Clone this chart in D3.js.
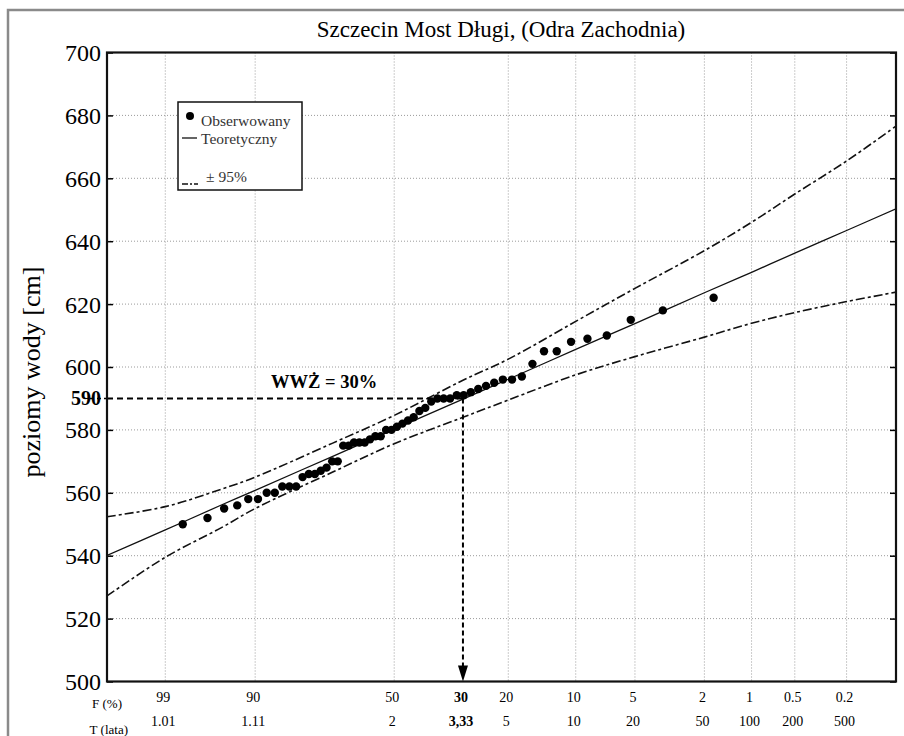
<!DOCTYPE html>
<html>
<head>
<meta charset="utf-8">
<script src="https://cdn.jsdelivr.net/npm/d3@7"></script>
<style>
  body { margin: 0; background: #fff; }
  svg { display: block; font-family: "Liberation Serif", "DejaVu Serif", serif; }
</style>
</head>
<body>
<div class="canvas"></div>
<script>
const observed = [622, 618, 615, 610, 609, 608, 605, 605, 601, 597,
                  596, 596, 595, 594, 593, 592, 591, 591, 590, 590,
                  590, 589, 587, 586, 584, 583, 582, 581, 580, 580,
                  578, 578, 577, 576, 576, 576, 575, 575, 570, 570,
                  568, 567, 566, 566, 565, 562, 562, 562, 560, 560,
                  558, 558, 556, 555, 552, 550];

// fitted curve and 95% band, read at these exceedance probabilities F [%]
const curveF  = [99.91, 99,    95,    90,    70,    50,    30,    20,    10,    5,     2,     1,     0.5,   0.2,   0.075];
const theory  = [540.1, 548.2, 556.2, 560.8, 571.6, 580.2, 589.8, 596.1, 605.6, 613.8, 623.6, 630.1, 636.2, 643.4, 650.3];
const upper   = [552.4, 555.6, 561.2, 565.0, 575.8, 584.6, 595.8, 602.5, 614.5, 625.0, 637.0, 646.0, 655.0, 665.5, 676.6];
const lower   = [527.2, 539.5, 549.0, 555.0, 566.6, 575.6, 584.0, 589.5, 597.5, 603.3, 609.5, 613.9, 617.3, 620.8, 623.8];

// axes
const gridF   = [99, 90, 50, 20, 10, 5, 2, 1, 0.5, 0.2];
const tickF   = [99, 90, 50, 30, 20, 10, 5, 2, 1, 0.5, 0.2];
const labelF  = ['99', '90', '50', '30', '20', '10', '5', '2', '1', '0.5', '0.2'];
const labelT  = ['1.01', '1.11', '2', '3,33', '5', '10', '20', '50', '100', '200', '500'];
const yTicks  = [500, 520, 540, 560, 580, 600, 620, 640, 660, 680, 700];

const wwzF = 30;      // WWŻ probability
const wwzLevel = 590; // cm

const W = 904, H = 736;
const plot = { left: 107, right: 896, top: 52.5, bottom: 681.5 };

const svg = d3.select('.canvas')
  .append('svg')
  .attr('width', W)
  .attr('height', H);

// outer frame (cut by the page edges)
svg.append('rect')
  .attr('x', 8).attr('y', 10)
  .attr('width', W + 20).attr('height', H + 20)
  .attr('fill', 'none')
  .attr('stroke', '#8a8a8a')
  .attr('stroke-width', 2.5);

// probability paper: GEV-type reduced variate of the non-exceedance probability
const k = 0.12;
const reduced = F => (1 - Math.pow(-Math.log(1 - F / 100), k)) / k;

const x = d3.scaleLinear()
  .domain([reduced(99.91), reduced(0.075)])
  .range([plot.left, plot.right]);
const xF = F => x(reduced(F));

const y = d3.scaleLinear()
  .domain([500, 700])
  .range([plot.bottom, plot.top]);

// title
svg.append('text')
  .attr('x', 501).attr('y', 37)
  .attr('text-anchor', 'middle')
  .attr('font-size', 23)
  .text('Szczecin Most Długi, (Odra Zachodnia)');

// grid
const grid = svg.append('g')
  .attr('stroke', '#9a9a9a')
  .attr('stroke-width', 1)
  .attr('stroke-dasharray', '1,2');

grid.selectAll('line.v')
  .data(gridF)
  .enter().append('line')
    .attr('class', 'v')
    .attr('x1', d => xF(d)).attr('x2', d => xF(d))
    .attr('y1', plot.top).attr('y2', plot.bottom);

grid.selectAll('line.h')
  .data(yTicks.slice(1, -1))
  .enter().append('line')
    .attr('class', 'h')
    .attr('x1', plot.left).attr('x2', plot.right)
    .attr('y1', d => y(d)).attr('y2', d => y(d));

// y axis (left, with inward ticks) and matching ticks on the right
const yAxis = svg.append('g')
  .attr('transform', `translate(${plot.left},0)`)
  .call(d3.axisRight(y).tickValues(yTicks).tickSize(6).tickFormat(''));
yAxis.select('.domain').remove();
yAxis.selectAll('line').attr('stroke', '#000').attr('stroke-width', 1.5);

const yAxisR = svg.append('g')
  .attr('transform', `translate(${plot.right},0)`)
  .call(d3.axisLeft(y).tickValues(yTicks).tickSize(6).tickFormat(''));
yAxisR.select('.domain').remove();
yAxisR.selectAll('line').attr('stroke', '#000').attr('stroke-width', 1.5);

svg.append('g')
  .selectAll('text')
  .data(yTicks)
  .enter().append('text')
    .attr('x', 101)
    .attr('y', d => y(d))
    .attr('dy', '0.35em')
    .attr('text-anchor', 'end')
    .attr('font-size', 24)
    .text(d => d);

svg.append('text')
  .attr('x', 101).attr('y', y(wwzLevel))
  .attr('dy', '0.35em')
  .attr('text-anchor', 'end')
  .attr('font-size', 20)
  .attr('font-weight', 'bold')
  .text(wwzLevel);

svg.append('text')
  .attr('transform', `translate(40, ${(plot.top + plot.bottom) / 2 + 5}) rotate(-90)`)
  .attr('text-anchor', 'middle')
  .attr('font-size', 26)
  .text('poziomy wody [cm]');

// x labels: F (%) and T (lata)
svg.append('text').attr('x', 122).attr('y', 708)
  .attr('text-anchor', 'end').attr('font-size', 13).text('F (%)');
svg.append('text').attr('x', 128).attr('y', 734)
  .attr('text-anchor', 'end').attr('font-size', 13).text('T (lata)');

svg.append('g')
  .selectAll('text')
  .data(tickF)
  .enter().append('text')
    .attr('x', d => xF(d) - 2)
    .attr('y', 702)
    .attr('text-anchor', 'middle')
    .attr('font-size', 14)
    .attr('font-weight', d => d === wwzF ? 'bold' : 'normal')
    .text((d, i) => labelF[i]);

svg.append('g')
  .selectAll('text')
  .data(tickF)
  .enter().append('text')
    .attr('x', d => xF(d) - 2)
    .attr('y', 726)
    .attr('text-anchor', 'middle')
    .attr('font-size', 14)
    .attr('font-weight', d => d === wwzF ? 'bold' : 'normal')
    .text((d, i) => labelT[i]);

// clip to plot area
svg.append('clipPath').attr('id', 'clip')
  .append('rect')
    .attr('x', plot.left).attr('y', plot.top)
    .attr('width', plot.right - plot.left).attr('height', plot.bottom - plot.top);

const g = svg.append('g').attr('clip-path', 'url(#clip)');

const pts = arr => curveF.map((F, i) => [F, arr[i]]);
const line = d3.line()
  .x(d => xF(d[0]))
  .y(d => y(d[1]))
  .curve(d3.curveCatmullRom.alpha(0.5));

g.append('path')
  .attr('d', line(pts(theory)))
  .attr('fill', 'none')
  .attr('stroke', '#111')
  .attr('stroke-width', 1.3);

[upper, lower].forEach(band => {
  g.append('path')
    .attr('d', line(pts(band)))
    .attr('fill', 'none')
    .attr('stroke', '#111')
    .attr('stroke-width', 1.6)
    .attr('stroke-dasharray', '9,3,3,3');
});

// WWŻ guide lines
const ax = xF(wwzF);
svg.append('line')
  .attr('x1', plot.left).attr('x2', ax)
  .attr('y1', y(wwzLevel)).attr('y2', y(wwzLevel))
  .attr('stroke', '#000').attr('stroke-width', 2)
  .attr('stroke-dasharray', '6,4');
svg.append('line')
  .attr('x1', 90).attr('x2', plot.left)
  .attr('y1', y(wwzLevel)).attr('y2', y(wwzLevel))
  .attr('stroke', '#000').attr('stroke-width', 1.5)
  .attr('stroke-dasharray', '4,3');
svg.append('line')
  .attr('x1', ax).attr('x2', ax)
  .attr('y1', y(wwzLevel)).attr('y2', plot.bottom - 14)
  .attr('stroke', '#000').attr('stroke-width', 2)
  .attr('stroke-dasharray', '5,3');
svg.append('path')
  .attr('d', `M${ax - 5},${plot.bottom - 16} L${ax + 5},${plot.bottom - 16} L${ax},${plot.bottom} Z`)
  .attr('fill', '#000');

// observed points at Weibull plotting positions
const n = observed.length;
const sorted = observed.slice().sort((a, b) => b - a);
g.selectAll('circle')
  .data(sorted)
  .enter().append('circle')
    .attr('cx', (d, i) => xF(100 * (i + 1) / (n + 1)))
    .attr('cy', d => y(d))
    .attr('r', 4.2)
    .attr('fill', '#000');

svg.append('text')
  .attr('x', 271).attr('y', 388)
  .attr('font-size', 18.5)
  .attr('font-weight', 'bold')
  .text('WWŻ = 30%');

// plot frame
svg.append('rect')
  .attr('x', plot.left).attr('y', plot.top)
  .attr('width', plot.right - plot.left).attr('height', plot.bottom - plot.top)
  .attr('fill', 'none')
  .attr('stroke', '#111')
  .attr('stroke-width', 2.2);

// legend
const lg = svg.append('g').attr('transform', 'translate(178,102)');
lg.append('rect')
  .attr('width', 124).attr('height', 88)
  .attr('fill', '#fff').attr('stroke', '#111').attr('stroke-width', 1.5);
lg.append('circle').attr('cx', 12).attr('cy', 14).attr('r', 4).attr('fill', '#000');
lg.append('line').attr('x1', 4).attr('x2', 19).attr('y1', 36).attr('y2', 36)
  .attr('stroke', '#111').attr('stroke-width', 1.3);
lg.append('line').attr('x1', 4).attr('x2', 20).attr('y1', 82).attr('y2', 82)
  .attr('stroke', '#111').attr('stroke-width', 1.6).attr('stroke-dasharray', '6,2,2,2');
const legText = [['Obserwowany', 23, 24], ['Teoretyczny', 23, 42], ['± 95%', 28, 80]];
lg.selectAll('text')
  .data(legText)
  .enter().append('text')
    .attr('x', d => d[1]).attr('y', d => d[2])
    .attr('font-size', 15.5)
    .attr('fill', '#333')
    .text(d => d[0]);
</script>
</body>
</html>
